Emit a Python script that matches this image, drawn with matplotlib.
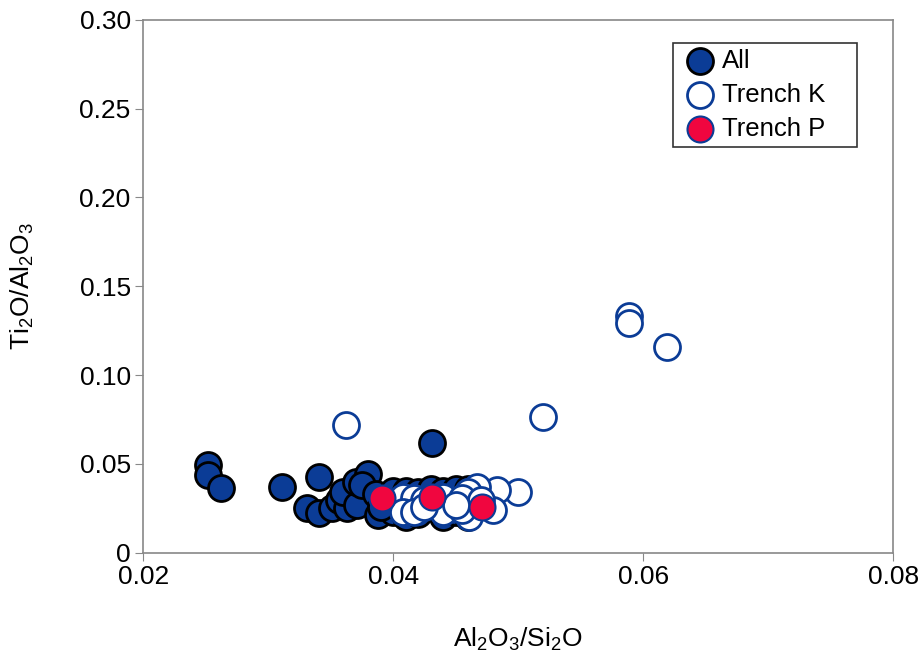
import matplotlib
matplotlib.use("Agg")
import matplotlib.pyplot as plt

plt.rcParams['font.family'] = ['Liberation Sans', 'DejaVu Sans']
plt.rcParams['mathtext.default'] = 'regular'

# All samples (filled blue)
all_x = [0.0252, 0.0252, 0.0262, 0.0311, 0.0341, 0.0331, 0.0341, 0.0351, 0.0357,
         0.0363, 0.0360, 0.0371, 0.0370, 0.0380, 0.0375, 0.0388, 0.0386, 0.0395,
         0.0400, 0.0431, 0.0410, 0.0420, 0.0430, 0.0440, 0.0450, 0.0460, 0.0470,
         0.0400, 0.0410, 0.0420, 0.0440, 0.0450, 0.0460, 0.0390]
all_y = [0.0495, 0.0440, 0.0366, 0.0372, 0.0428, 0.0253, 0.0225, 0.0253, 0.0300,
         0.0250, 0.0340, 0.0270, 0.0400, 0.0445, 0.0380, 0.0214, 0.0330, 0.0290,
         0.0350, 0.0620, 0.0350, 0.0340, 0.0360, 0.0350, 0.0360, 0.0360, 0.0350,
         0.0230, 0.0200, 0.0220, 0.0200, 0.0230, 0.0200, 0.0260]

# Trench K (open)
k_x = [0.0362, 0.0520, 0.0589, 0.0589, 0.0619, 0.0500, 0.0483, 0.0467, 0.0460,
       0.0480, 0.0461, 0.0408, 0.0417, 0.0425, 0.0440, 0.0455, 0.0408, 0.0417,
       0.0440, 0.0455, 0.0470, 0.0450, 0.0425]
k_y = [0.0720, 0.0766, 0.1330, 0.1295, 0.1160, 0.0345, 0.0355, 0.0370, 0.0340,
       0.0240, 0.0200, 0.0315, 0.0310, 0.0300, 0.0315, 0.0310, 0.0230, 0.0230,
       0.0230, 0.0240, 0.0300, 0.0270, 0.0260]

# Trench P (red)
p_x = [0.0391, 0.0431, 0.0471]
p_y = [0.0310, 0.0315, 0.0260]

blue = '#0b3c96'
red = '#f0063f'
ms = 350
fs = 19

fig = plt.figure(figsize=(9.18, 6.55), dpi=100)
ax = fig.add_axes([0.156, 0.156, 0.817, 0.814])

ax.scatter(all_x, all_y, s=ms, c=blue, edgecolors='black', linewidths=2.0, label='All', zorder=2)
ax.scatter(k_x, k_y, s=ms, c='white', edgecolors=blue, linewidths=2.0, label='Trench K', zorder=3)
ax.scatter(p_x, p_y, s=ms, c=red, edgecolors=blue, linewidths=1.5, label='Trench P', zorder=4)

ax.set_xlim(0.02, 0.08)
ax.set_ylim(0, 0.30)
ax.set_xticks([0.02, 0.04, 0.06, 0.08])
ax.set_xticklabels(['0.02', '0.04', '0.06', '0.08'])
ax.set_yticks([0, 0.05, 0.10, 0.15, 0.20, 0.25, 0.30])
ax.set_yticklabels(['0', '0.05', '0.10', '0.15', '0.20', '0.25', '0.30'])
ax.tick_params(direction='out', length=6, color='#888888', labelsize=fs, pad=3)
for sp in ax.spines.values():
    sp.set_color('#888888')
    sp.set_linewidth(1.2)

ax.set_xlabel('Al$_2$O$_3$/Si$_2$O', fontsize=fs, labelpad=26)
ax.set_ylabel('Ti$_2$O/Al$_2$O$_3$', fontsize=fs, labelpad=31)

leg = ax.legend(loc='upper left', bbox_to_anchor=(0.707, 0.957, 0.245, 0), mode='expand',
                borderaxespad=0, fontsize=18.5, frameon=True, fancybox=False,
                handletextpad=0.05, borderpad=0.25, labelspacing=0.38,
                handlelength=1.6, scatterpoints=1)
leg.get_frame().set_edgecolor('black')
leg.get_frame().set_linewidth(1.2)

fig.savefig('out.png', dpi=100)
